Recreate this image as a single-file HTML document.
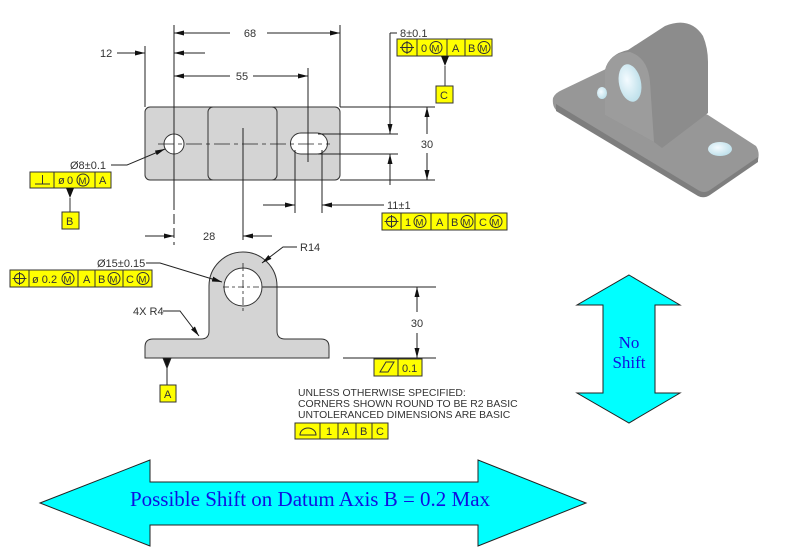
<!DOCTYPE html>
<html><head><meta charset="utf-8"><style>
html,body{margin:0;padding:0;background:#fff;}
svg{display:block;}
text{font-family:"Liberation Sans",sans-serif;}
</style></head><body>
<svg width="788" height="553" viewBox="0 0 788 553" xmlns="http://www.w3.org/2000/svg">
<defs>
<marker id="ar" viewBox="0 0 10 6" refX="10" refY="3" markerWidth="10" markerHeight="6" orient="auto" markerUnits="userSpaceOnUse"><path d="M0,0.5 L10,3 L0,5.5 Z" fill="#111"/></marker>
<radialGradient id="hb" cx="0.4" cy="0.4" r="0.7"><stop offset="0" stop-color="#f4fbff"/><stop offset="1" stop-color="#b8dde8"/></radialGradient>
</defs>
<g stroke="#222" stroke-width="1" fill="none" font-size="11" >
<!-- TOP VIEW -->
<rect x="145" y="107" width="195" height="73" rx="5" fill="#d4d4d4" stroke="#333"/>
<rect x="208" y="107" width="69" height="73" rx="5" fill="#d4d4d4" stroke="#333"/>
<circle cx="174" cy="144" r="10" fill="#fff" stroke="#333"/>
<path d="M301,133 L317,133 A10.5,10.5 0 0 1 317,154 L301,154 A10.5,10.5 0 0 1 301,133 Z" fill="#fff" stroke="#333"/>
<line x1="158" y1="144" x2="330" y2="144" stroke-dasharray="16,4,4,4" stroke-width="0.8"/>
<line x1="174" y1="25" x2="174" y2="200"/>
<line x1="174" y1="200" x2="174" y2="245" stroke-dasharray="10,4"/>
<line x1="243" y1="128" x2="243" y2="240"/>
<line x1="308" y1="68" x2="308" y2="162"/>
<line x1="340" y1="25" x2="340" y2="107"/>
<line x1="145" y1="46" x2="145" y2="107"/>
<line x1="230" y1="33" x2="174" y2="33" marker-end="url(#ar)"/>
<line x1="267" y1="33" x2="340" y2="33" marker-end="url(#ar)"/>
<text x="250" y="37" fill="#333" stroke="none" text-anchor="middle">68</text>
<line x1="117" y1="53" x2="145" y2="53" marker-end="url(#ar)"/>
<line x1="205" y1="53" x2="174" y2="53" marker-end="url(#ar)"/>
<text x="100" y="57" fill="#333" stroke="none">12</text>
<line x1="230" y1="76" x2="174" y2="76" marker-end="url(#ar)"/>
<line x1="253" y1="76" x2="308" y2="76" marker-end="url(#ar)"/>
<text x="242" y="80" fill="#333" stroke="none" text-anchor="middle">55</text>
<line x1="340" y1="107" x2="435" y2="107"/>
<line x1="340" y1="180" x2="435" y2="180"/>
<line x1="427" y1="134" x2="427" y2="107" marker-end="url(#ar)"/>
<line x1="427" y1="153" x2="427" y2="180" marker-end="url(#ar)"/>
<text x="427" y="148" fill="#333" stroke="none" text-anchor="middle">30</text>
<line x1="318" y1="134" x2="398" y2="134"/>
<line x1="318" y1="154" x2="398" y2="154"/>
<line x1="390" y1="33" x2="390" y2="134" marker-end="url(#ar)"/>
<line x1="390" y1="185" x2="390" y2="154" marker-end="url(#ar)"/>
<line x1="390" y1="33" x2="397" y2="33"/>
<text x="400" y="37" fill="#333" stroke="none">8±0.1</text>
<line x1="295" y1="150" x2="295" y2="213"/>
<line x1="322" y1="150" x2="322" y2="213"/>
<line x1="263" y1="205" x2="295" y2="205" marker-end="url(#ar)"/>
<line x1="384" y1="205" x2="322" y2="205" marker-end="url(#ar)"/>
<text x="387" y="209" fill="#333" stroke="none">11±1</text>
<text x="70" y="169" fill="#333" stroke="none">Ø8±0.1</text>
<polyline points="111,165 127,165 165,149" marker-end="url(#ar)"/>
<line x1="145" y1="236" x2="174" y2="236" marker-end="url(#ar)"/>
<line x1="272" y1="236" x2="243" y2="236" marker-end="url(#ar)"/>
<text x="203" y="240" fill="#333" stroke="none">28</text>

<!-- FRONT VIEW -->
<path d="M153,339 L201,339 Q209,339 209,331 L209,286 A34,34 0 0 1 277,286 L277,331 Q277,339 285,339 L321,339 Q329,339 329,347 L329,358 L145,358 L145,347 Q145,339 153,339 Z" fill="#d4d4d4" stroke="#333"/>
<circle cx="243" cy="287" r="19" fill="#fff" stroke="#333"/>
<line x1="223" y1="287" x2="263" y2="287" stroke-dasharray="6,3,3,3" stroke-width="0.8"/>
<line x1="243" y1="263" x2="243" y2="312" stroke-dasharray="8,3,3,3" stroke-width="0.8"/>
<line x1="263" y1="287" x2="436" y2="287"/>
<line x1="343" y1="358" x2="436" y2="358"/>
<line x1="417" y1="312" x2="417" y2="287" marker-end="url(#ar)"/>
<line x1="417" y1="333" x2="417" y2="358" marker-end="url(#ar)"/>
<text x="417" y="327" fill="#333" stroke="none" text-anchor="middle">30</text>
<text x="300" y="251" fill="#333" stroke="none">R14</text>
<polyline points="297,247 283,247 262,263" marker-end="url(#ar)"/>
<text x="97" y="267" fill="#333" stroke="none">Ø15±0.15</text>
<polyline points="146,263 160,263 222,282" marker-end="url(#ar)"/>
<text x="133" y="315" fill="#333" stroke="none">4X R4</text>
<polyline points="163,311 180,311 199,336" marker-end="url(#ar)"/>
<path d="M163,358 L171,358 L167,368 Z" fill="#111"/>
<line x1="167" y1="368" x2="167" y2="385"/>
</g>

<g stroke="#333" stroke-width="1" fill="#ffff00" font-size="11">
<rect x="397" y="39" width="95" height="17"/>
<line x1="417" y1="39" x2="417" y2="56"/><line x1="447" y1="39" x2="447" y2="56"/><line x1="465" y1="39" x2="465" y2="56"/>
<circle cx="407" cy="47.5" r="5" fill="none"/><line x1="400" y1="47.5" x2="414" y2="47.5"/><line x1="407" y1="41" x2="407" y2="54"/>
<text x="421" y="52" fill="#333" stroke="none">0</text><circle cx="436" cy="47.5" r="6" fill="none"/><text x="431.5" y="51.5" fill="#333" stroke="none" font-size="9.5">M</text>
<text x="452" y="52" fill="#333" stroke="none">A</text>
<text x="468" y="52" fill="#333" stroke="none">B</text><circle cx="484" cy="47.5" r="6" fill="none"/><text x="479.5" y="51.5" fill="#333" stroke="none" font-size="9.5">M</text>
<path d="M441,56 L449,56 L445,66 Z" fill="#111" stroke="none"/>
<line x1="445" y1="66" x2="445" y2="86"/>
<rect x="436" y="86" width="17" height="17"/><text x="440" y="99" fill="#333" stroke="none">C</text>

<rect x="382" y="213" width="125" height="17"/>
<line x1="401" y1="213" x2="401" y2="230"/><line x1="431" y1="213" x2="431" y2="230"/><line x1="448" y1="213" x2="448" y2="230"/><line x1="475" y1="213" x2="475" y2="230"/>
<circle cx="391.5" cy="221.5" r="5" fill="none"/><line x1="384.5" y1="221.5" x2="398.5" y2="221.5"/><line x1="391.5" y1="215" x2="391.5" y2="228"/>
<text x="405" y="226" fill="#333" stroke="none">1</text><circle cx="420" cy="221.5" r="6" fill="none"/><text x="415.5" y="225.5" fill="#333" stroke="none" font-size="9.5">M</text>
<text x="436" y="226" fill="#333" stroke="none">A</text>
<text x="451" y="226" fill="#333" stroke="none">B</text><circle cx="467" cy="221.5" r="6" fill="none"/><text x="462.5" y="225.5" fill="#333" stroke="none" font-size="9.5">M</text>
<text x="479" y="226" fill="#333" stroke="none">C</text><circle cx="496" cy="221.5" r="6" fill="none"/><text x="491.5" y="225.5" fill="#333" stroke="none" font-size="9.5">M</text>

<rect x="30" y="172" width="81" height="16"/>
<line x1="54" y1="172" x2="54" y2="188"/><line x1="95" y1="172" x2="95" y2="188"/>
<line x1="35" y1="184" x2="50" y2="184"/><line x1="42.5" y1="175" x2="42.5" y2="184"/>
<text x="58" y="184" fill="#333" stroke="none">ø</text><text x="67" y="184" fill="#333" stroke="none">0</text><circle cx="83" cy="180" r="6" fill="none"/><text x="78.5" y="184" fill="#333" stroke="none" font-size="9.5">M</text>
<text x="99" y="184" fill="#333" stroke="none">A</text>
<path d="M66,188 L74,188 L70,198 Z" fill="#111" stroke="none"/>
<line x1="70" y1="198" x2="70" y2="212"/>
<rect x="62" y="212" width="17" height="17"/><text x="66" y="225" fill="#333" stroke="none">B</text>

<rect x="10" y="270" width="142" height="17"/>
<line x1="29" y1="270" x2="29" y2="287"/><line x1="78" y1="270" x2="78" y2="287"/><line x1="95" y1="270" x2="95" y2="287"/><line x1="123" y1="270" x2="123" y2="287"/>
<circle cx="19.5" cy="278.5" r="5" fill="none"/><line x1="12.5" y1="278.5" x2="26.5" y2="278.5"/><line x1="19.5" y1="272" x2="19.5" y2="285"/>
<text x="32" y="283" fill="#333" stroke="none">ø 0.2</text><circle cx="68" cy="278.5" r="6" fill="none"/><text x="63.5" y="282.5" fill="#333" stroke="none" font-size="9.5">M</text>
<text x="83" y="283" fill="#333" stroke="none">A</text>
<text x="98" y="283" fill="#333" stroke="none">B</text><circle cx="114" cy="278.5" r="6" fill="none"/><text x="109.5" y="282.5" fill="#333" stroke="none" font-size="9.5">M</text>
<text x="126" y="283" fill="#333" stroke="none">C</text><circle cx="143" cy="278.5" r="6" fill="none"/><text x="138.5" y="282.5" fill="#333" stroke="none" font-size="9.5">M</text>

<rect x="160" y="385" width="16" height="17"/><text x="164" y="398" fill="#333" stroke="none">A</text>

<rect x="374" y="359" width="48" height="17"/>
<line x1="398" y1="359" x2="398" y2="376"/>
<path d="M380,372 L386,362 L394,362 L388,372 Z" fill="none"/>
<text x="402" y="372" fill="#333" stroke="none">0.1</text>

<rect x="295" y="423" width="93" height="16"/>
<line x1="320" y1="423" x2="320" y2="439"/><line x1="338" y1="423" x2="338" y2="439"/><line x1="356" y1="423" x2="356" y2="439"/><line x1="372" y1="423" x2="372" y2="439"/>
<path d="M300,435 A8,7 0 0 1 316,435 Z" fill="none"/>
<text x="326" y="435" fill="#333" stroke="none">1</text>
<text x="342" y="435" fill="#333" stroke="none">A</text>
<text x="360" y="435" fill="#333" stroke="none">B</text>
<text x="376" y="435" fill="#333" stroke="none">C</text>
</g>

<g fill="#333" font-size="10.4">
<text x="298" y="396">UNLESS OTHERWISE SPECIFIED:</text>
<text x="298" y="407">CORNERS SHOWN ROUND TO BE R2 BASIC</text>
<text x="298" y="418">UNTOLERANCED DIMENSIONS ARE BASIC</text>
</g>

<!-- 3D part -->
<g>
<path d="M553,98 Q555,93 562,90 L608,68 L708,115 L756,146 Q760,152 758,160 L710,194 Q704,198 698,195 L556,110 Q552,106 553,98 Z" fill="#979797"/>
<path d="M556,104 L698,190 Q704,194 710,190 L758,157 L758,162 L710,195 Q704,199 698,196 L556,111 Z" fill="#7e7e7e"/>
<path d="M605,115 L605,70 Q609,54 628,50 L665,26 Q690,16 703,36 Q708,48 708,62 L708,113 L662,148 L654,142 Z" fill="#8c8c8c"/>
<path d="M605,115 L605,70 Q610,52 630,52 Q648,58 650,82 L654,142 Z" fill="#9c9c9c"/>
<ellipse cx="630" cy="83" rx="11" ry="19" transform="rotate(-12 630 83)" fill="url(#hb)"/>
<ellipse cx="602" cy="93" rx="5" ry="6" fill="url(#hb)"/>
<ellipse cx="720" cy="149" rx="12" ry="7" fill="url(#hb)"/>
</g>

<polygon points="40,503 150,460 150,482 478,482 478,460 586,503 478,546 478,525 150,525 150,546" fill="#00ffff" stroke="#222" stroke-width="1"/>
<text x="310" y="506" text-anchor="middle" font-size="21" fill="#1010e0" style="font-family:'Liberation Serif',serif">Possible Shift on Datum Axis B = 0.2 Max</text>
<polygon points="629,275 680,305 655,305 655,393 680,393 629,423 577,393 603,393 603,305 577,305" fill="#00ffff" stroke="#222" stroke-width="1"/>
<text x="629" y="348" text-anchor="middle" font-size="17" fill="#1010e0" style="font-family:'Liberation Serif',serif">No</text>
<text x="629" y="368" text-anchor="middle" font-size="17" fill="#1010e0" style="font-family:'Liberation Serif',serif">Shift</text>
</svg>
</body></html>
